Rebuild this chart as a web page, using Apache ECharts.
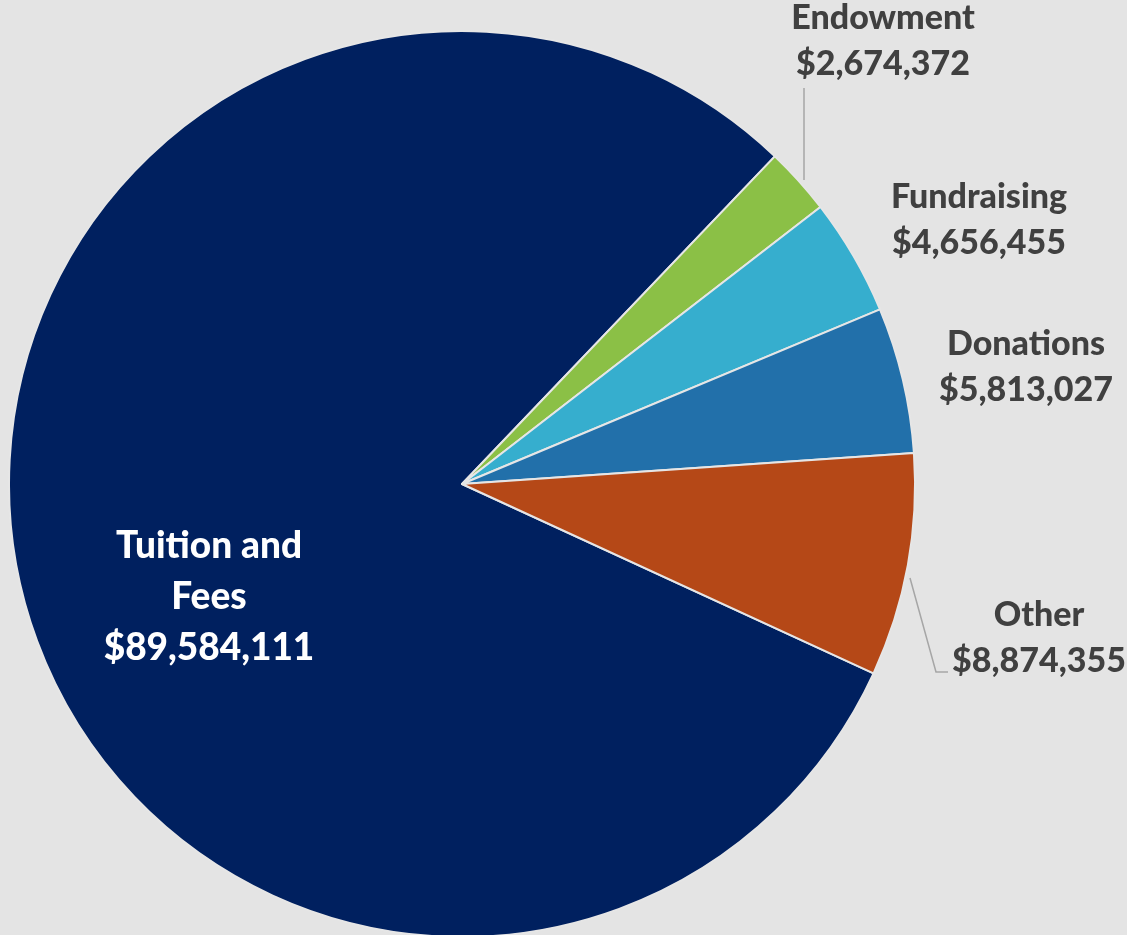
<!DOCTYPE html>
<html><head><meta charset="utf-8">
<script src="https://cdn.jsdelivr.net/npm/echarts@6/dist/echarts.min.js"></script>
<style>html,body{margin:0;padding:0;background:#e4e4e4;}#c{width:1127px;height:935px;}</style>
</head><body><div id="c"></div>
<script>
const categories = ['Tuition and\nFees', 'Endowment', 'Fundraising', 'Donations', 'Other'];
const values = [89584111, 2674372, 4656455, 5813027, 8874355];
const colors = ['#00205f', '#8bc046', '#36aece', '#2270aa', '#b54817'];

// label anchor positions (annotation layout)
const labelPos = [[209, 597], [883, 41], [979, 220], [1026, 367], [1039, 638]];
const leaderLines = [null, [[804, 180], [804, 88]], null, null, [[910, 578], [936, 672], [948, 672]]];

function fmt(v) { return '$' + v.toLocaleString('en-US'); }

const chart = echarts.init(document.getElementById('c'));
chart.setOption({
  backgroundColor: '#e4e4e4',
  animation: false,
  series: [{
    type: 'pie',
    center: [462, 484],
    radius: 453,
    startAngle: -24.7,
    clockwise: true,
    avoidLabelOverlap: false,
    emphasis: { disabled: true },
    itemStyle: { borderColor: '#e6e6e6', borderWidth: 2 },
    label: {
      show: true,
      fontFamily: 'Lato',
      fontWeight: 900,
      fontSize: 34,
      lineHeight: 46,
      color: '#404040',
      align: 'center',
      formatter: p => p.name + '\n' + fmt(p.value)
    },
    labelLine: { show: false, lineStyle: { color: '#a6a6a6', width: 1.5 } },
    labelLayout: function (p) {
      const i = p.dataIndex;
      const o = { x: labelPos[i][0], y: labelPos[i][1], align: 'center', verticalAlign: 'middle' };
      if (leaderLines[i]) o.labelLinePoints = leaderLines[i];
      return o;
    },
    data: categories.map((c, i) => ({
      name: c,
      value: values[i],
      itemStyle: { color: colors[i] },
      label: i === 0 ? { position: 'inside', color: '#ffffff', fontSize: 37, lineHeight: 51 } : { position: 'outside' },
      labelLine: { show: !!leaderLines[i] }
    }))
  }]
});
</script></body></html>
